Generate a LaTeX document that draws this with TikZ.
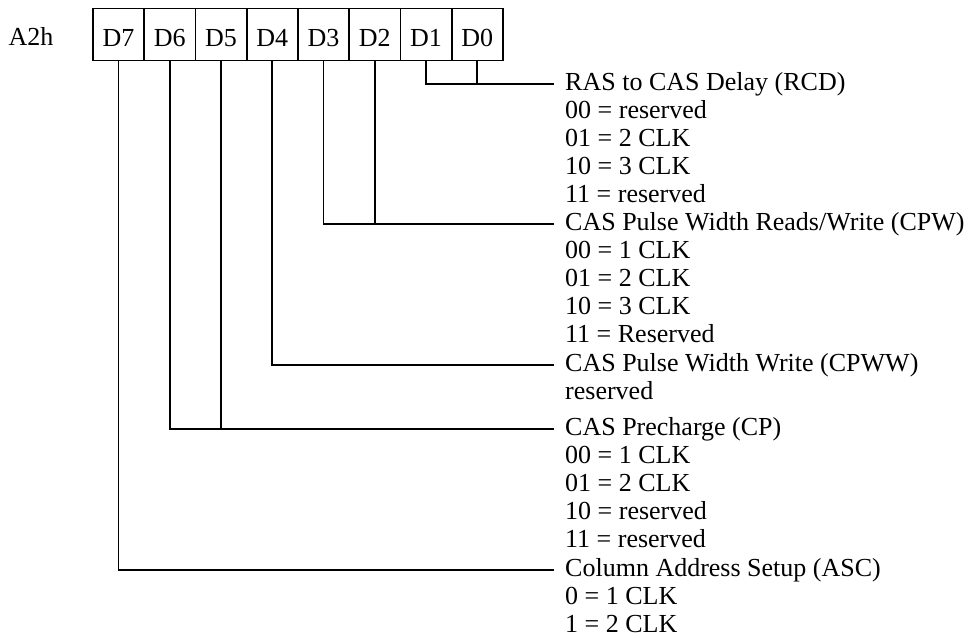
\documentclass[tikz,border=0pt]{standalone}
\usepackage{fontspec}
\setmainfont{Liberation Serif}
\begin{document}
\begin{tikzpicture}[x=1pt,y=-1pt,
  lbl/.style={font=\fontsize{26}{26}\selectfont, inner sep=0pt, anchor=base west},
  cell/.style={draw, line width=1.8pt, minimum width=51.25pt, minimum height=52pt, inner sep=0pt,
    text height=24pt, text depth=0pt, font=\fontsize{26}{26}\selectfont, anchor=north west},
  wire/.style={draw, line width=1.8pt}]
\useasboundingbox[fill=white] (0,0) rectangle (976,637);
% register label
\node[lbl] (reg) at (8.5,45.5) {A2h};
% register cells
\foreach \n [count=\i from 0] in {7,6,5,4,3,2,1,0}
  \node[cell] (D\n) at (92+\i*51.25,7.5) {D\n};
% line end points
\coordinate (e1) at (554,84);
\coordinate (e2) at (554,224);
\coordinate (e3) at (554,365);
\coordinate (e4) at (554,429);
\coordinate (e5) at (554,570);
% connectors
\path[wire] (D1.south) |- (e1);
\path[wire] (D0.south) -- (D0.south |- e1);
\path[wire] (D3.south) |- (e2);
\path[wire] (D2.south) -- (D2.south |- e2);
\path[wire] (D4.south) |- (e3);
\path[wire] (D6.south) |- (e4);
\path[wire] (D5.south) -- (D5.south |- e4);
\path[wire] (D7.south) |- (e5);
% descriptions
\foreach \t [count=\i from 0] in {RAS to CAS Delay (RCD),00 = reserved,01 = 2 CLK,10 = 3 CLK,11 = reserved}
  \node[lbl] (rcd\i) at (565,90.5+\i*28) {\t};
\foreach \t [count=\i from 0] in {CAS Pulse Width Reads/Write (CPW),00 = 1 CLK,01 = 2 CLK,10 = 3 CLK,11 = Reserved}
  \node[lbl] (cpw\i) at (565,230.5+\i*28) {\t};
\foreach \t [count=\i from 0] in {CAS Pulse Width Write (CPWW),reserved}
  \node[lbl] (cpww\i) at (565,371.5+\i*28) {\t};
\foreach \t [count=\i from 0] in {CAS Precharge (CP),00 = 1 CLK,01 = 2 CLK,10 = reserved,11 = reserved}
  \node[lbl] (cp\i) at (565,435.5+\i*28) {\t};
\foreach \t [count=\i from 0] in {Column Address Setup (ASC),0 = 1 CLK,1 = 2 CLK}
  \node[lbl] (asc\i) at (565,576.5+\i*28) {\t};
\end{tikzpicture}
\end{document}
